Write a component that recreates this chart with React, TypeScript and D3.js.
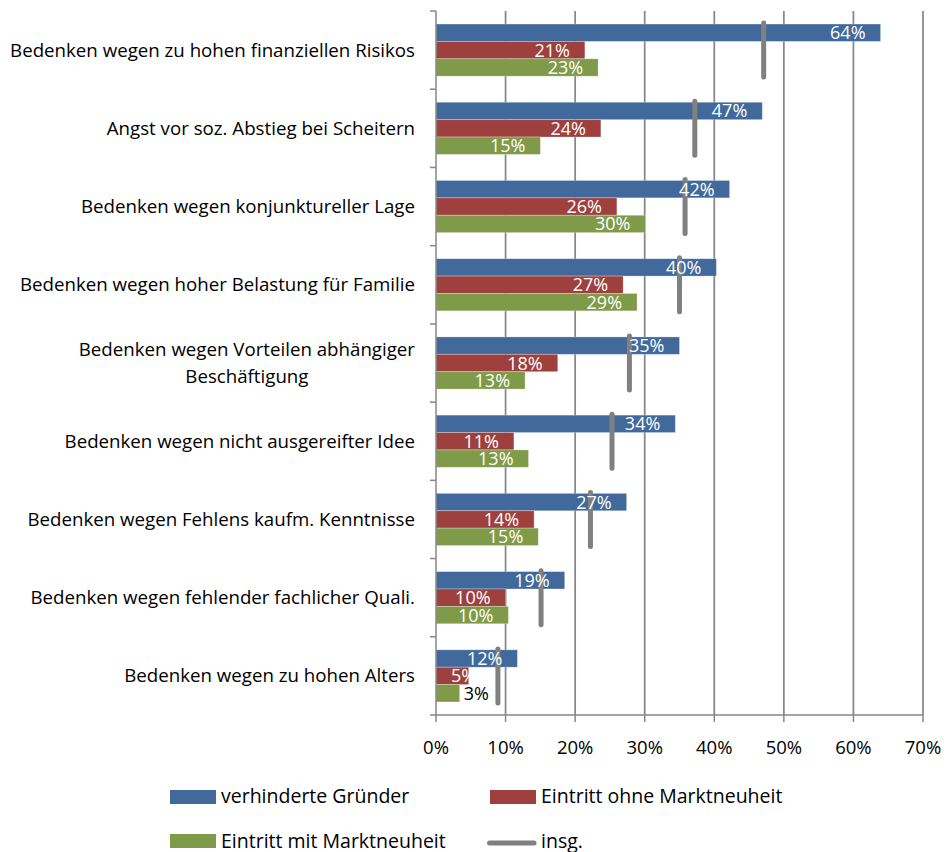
import React, { useMemo } from "react";
import * as d3 from "d3";

const categories = [
  "Bedenken wegen zu hohen finanziellen Risikos",
  "Angst vor soz. Abstieg bei Scheitern",
  "Bedenken wegen konjunktureller Lage",
  "Bedenken wegen hoher Belastung für Familie",
  "Bedenken wegen Vorteilen abhängiger\nBeschäftigung",
  "Bedenken wegen nicht ausgereifter Idee",
  "Bedenken wegen Fehlens kaufm. Kenntnisse",
  "Bedenken wegen fehlender fachlicher Quali.",
  "Bedenken wegen zu hohen Alters",
];
const verhinderteGruender = [63.9, 46.9, 42.2, 40.3, 35.0, 34.4, 27.4, 18.5, 11.7];
const eintrittOhneNeuheit = [21.4, 23.7, 26.0, 26.9, 17.5, 11.2, 14.1, 10.0, 4.7];
const eintrittMitNeuheit = [23.3, 15.0, 30.1, 28.9, 12.8, 13.3, 14.7, 10.4, 3.4];
const insgesamt = [47.1, 37.2, 35.8, 35.0, 27.8, 25.3, 22.2, 15.1, 8.9];
const xTicks = [0, 10, 20, 30, 40, 50, 60, 70];
const seriesNames = ["verhinderte Gründer", "Eintritt ohne Marktneuheit", "Eintritt mit Marktneuheit"];
const insgName = "insg.";

const COLORS = ["#41699C", "#9E413E", "#7F9A48"];
const GRAY = "#808080";
const AXIS = "#878787";
const FONT = "'Open Sans', Lato, sans-serif";
const FS = 18;
const FS_CAT = 18.7;
const FS_LEG = 19.5;
const FS_TICK = 18.5;

let ctx: CanvasRenderingContext2D | null = null;
function measure(t: string, fs: number): number {
  if (!ctx) ctx = document.createElement("canvas").getContext("2d");
  if (!ctx) return t.length * fs * 0.5;
  ctx.font = `${fs}px 'Open Sans'`;
  return ctx.measureText(t).width;
}

export default function App() {
  const W = 949, H = 852;
  const left = 436, right = 923, top = 11, bottom = 715;
  const x = d3.scaleLinear().domain([0, 70]).range([left, right]);
  const y = d3.scaleBand<number>().domain(categories.map((_, i) => i)).range([top, bottom]).padding(0);
  const step = y.step();
  const bh = step / 4.5;
  const series = [verhinderteGruender, eintrittOhneNeuheit, eintrittMitNeuheit];

  const bars = useMemo(() => {
    const out: any[] = [];
    series.forEach((vals, s) => {
      vals.forEach((v, i) => {
        const y0 = (y(i) as number) + (step - 3 * bh) / 2 + s * bh;
        out.push({ s, i, v, y0 });
      });
    });
    return out;
  }, []);

  return (
    <svg width={W} height={H} style={{ position: "absolute", left: 0, top: 0, background: "#fff" }} fontFamily={FONT}>
      {/* gridlines */}
      {xTicks.filter((t) => t > 0).map((t) => (
        <line key={"g" + t} x1={x(t)} x2={x(t)} y1={top} y2={bottom} stroke={AXIS} strokeWidth={1.75} />
      ))}
      {/* bars */}
      {bars.map((b) => (
        <rect key={`b${b.s}-${b.i}`} x={x(0)} y={b.y0} width={x(b.v) - x(0)} height={bh} fill={COLORS[b.s]} stroke="#ffffff" strokeOpacity={0.35} strokeWidth={0.8} />
      ))}
      {/* insg markers */}
      {insgesamt.map((v, i) => {
        const cy = (y(i) as number) + step / 2;
        return (
          <line key={"i" + i} x1={x(v)} x2={x(v)} y1={cy - 27} y2={cy + 27} stroke={GRAY} strokeWidth={5} strokeLinecap="round" />
        );
      })}
      {/* data labels */}
      {bars.map((b) => {
        const label = Math.round(b.v) + "%";
        const w = measure(label, FS);
        const end = x(b.v);
        const len = end - x(0);
        const ty = b.y0 + bh / 2 + 6.5;
        if (len < 30) {
          return (
            <text key={`l${b.s}-${b.i}`} x={end + 4} y={ty} fontSize={FS} fill="#000">{label}</text>
          );
        }
        const ax = Math.max(end - 15, x(0) + 15 + w);
        return (
          <text key={`l${b.s}-${b.i}`} x={ax} y={ty} fontSize={FS} fill="#fff" textAnchor="end">{label}</text>
        );
      })}
      {/* axes */}
      <line x1={left} x2={left} y1={top} y2={bottom} stroke={AXIS} strokeWidth={1.5} />
      <line x1={left} x2={right} y1={bottom} y2={bottom} stroke={AXIS} strokeWidth={1.5} />
      {categories.map((_, i) => (
        <line key={"yt" + i} x1={left - 6} x2={left} y1={y(i) as number} y2={y(i) as number} stroke={AXIS} strokeWidth={1.5} />
      ))}
      <line x1={left - 6} x2={left} y1={bottom} y2={bottom} stroke={AXIS} strokeWidth={1.5} />
      {xTicks.map((t) => (
        <g key={"xt" + t}>
          <line x1={x(t)} x2={x(t)} y1={bottom} y2={bottom + 7} stroke={AXIS} strokeWidth={1.5} />
          <text x={x(t)} y={754} fontSize={FS_TICK} textAnchor="middle" fill="#000">{t + "%"}</text>
        </g>
      ))}
      {/* category labels */}
      {categories.map((c, i) => {
        const lines = c.split("\n");
        const cy = (y(i) as number) + step / 2;
        const maxW = Math.max(...lines.map((l) => measure(l, FS_CAT)));
        const cx = 415 - maxW / 2;
        return (
          <g key={"c" + i}>
            {lines.map((ln, k) => (
              <text key={k} x={lines.length > 1 ? cx : 415} y={cy + 6.5 + (k - (lines.length - 1) / 2) * 26.5}
                fontSize={FS_CAT} fill="#000" textAnchor={lines.length > 1 ? "middle" : "end"}>{ln}</text>
            ))}
          </g>
        );
      })}
      {/* legend */}
      <rect x={170} y={790} width={46} height={14} fill={COLORS[0]} />
      <text x={221} y={803} fontSize={FS_LEG} fill="#000">{seriesNames[0]}</text>
      <rect x={490} y={790} width={46} height={14} fill={COLORS[1]} />
      <text x={541} y={803} fontSize={FS_LEG} fill="#000">{seriesNames[1]}</text>
      <rect x={170} y={834} width={46} height={14} fill={COLORS[2]} />
      <text x={221} y={847.5} fontSize={FS_LEG} fill="#000">{seriesNames[2]}</text>
      <line x1={489.5} x2={534} y1={843} y2={843} stroke={GRAY} strokeWidth={5} strokeLinecap="round" />
      <text x={541} y={847.5} fontSize={FS_LEG} fill="#000">{insgName}</text>
    </svg>
  );
}
